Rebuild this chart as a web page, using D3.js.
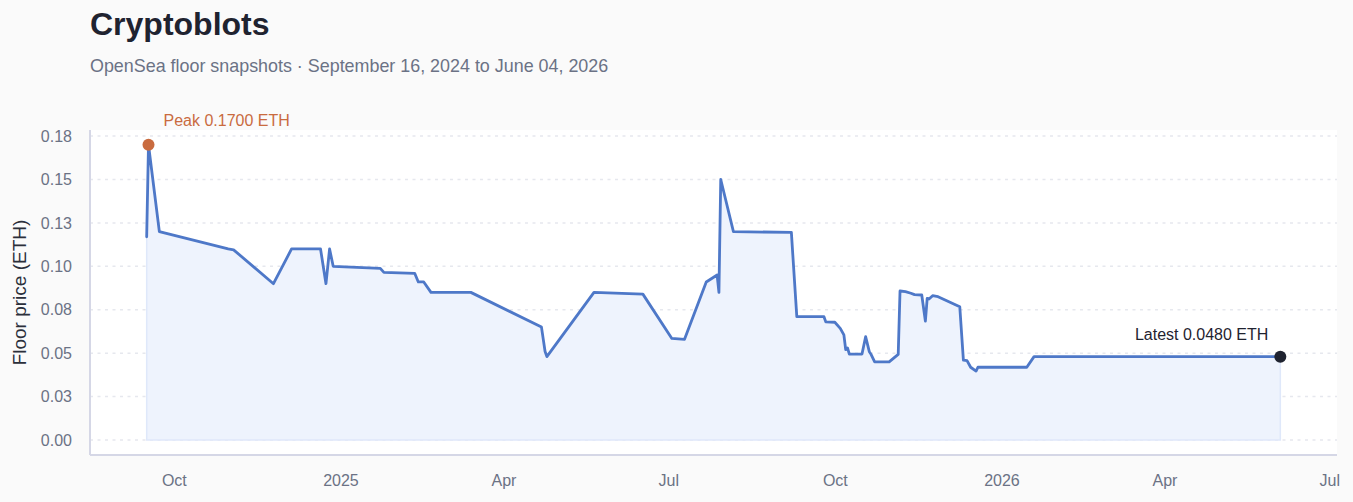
<!DOCTYPE html>
<html>
<head>
<meta charset="utf-8">
<script src="https://cdn.jsdelivr.net/npm/d3@7"></script>
<style>
  html, body { margin: 0; padding: 0; background: #fafafa; }
  svg { display: block; font-family: "Liberation Sans", Arial, Helvetica, sans-serif; }
</style>
</head>
<body>
<div id="chart"></div>
<script>
// Cryptoblots floor price — OpenSea snapshots

const snapshotDates = [
  "2024-09-16", "2024-09-17", "2024-09-23", "2024-10-31", "2024-11-03", "2024-11-25",
  "2024-12-05", "2024-12-21", "2024-12-24", "2024-12-26", "2024-12-28", "2025-01-23",
  "2025-01-25", "2025-02-11", "2025-02-13", "2025-02-16", "2025-02-20", "2025-03-14",
  "2025-04-22", "2025-04-24", "2025-04-25", "2025-05-21", "2025-06-17", "2025-07-03",
  "2025-07-10", "2025-07-22", "2025-07-28", "2025-07-29", "2025-07-30", "2025-08-06",
  "2025-09-07", "2025-09-10", "2025-09-25", "2025-09-26", "2025-10-01", "2025-10-04",
  "2025-10-06", "2025-10-07", "2025-10-08", "2025-10-09", "2025-10-16", "2025-10-18",
  "2025-10-20", "2025-10-21", "2025-10-23", "2025-10-31", "2025-11-05", "2025-11-06",
  "2025-11-09", "2025-11-12", "2025-11-14", "2025-11-18", "2025-11-20", "2025-11-21",
  "2025-11-22", "2025-11-24", "2025-11-27", "2025-12-09", "2025-12-11", "2025-12-13",
  "2025-12-15", "2025-12-18", "2025-12-19", "2026-01-15", "2026-01-19", "2026-06-04"
];

const floorEth = [
  0.117, 0.170, 0.120, 0.110, 0.1095, 0.090,
  0.110, 0.110, 0.090, 0.110, 0.100, 0.0988,
  0.0965, 0.096, 0.091, 0.091, 0.085, 0.085,
  0.065, 0.051, 0.048, 0.085, 0.084, 0.0585,
  0.058, 0.091, 0.095, 0.085, 0.150, 0.120,
  0.1195, 0.071, 0.071, 0.068, 0.0678, 0.0643,
  0.0605, 0.052, 0.053, 0.0495, 0.0495, 0.0595,
  0.051, 0.0493, 0.045, 0.045, 0.0493, 0.0858,
  0.0854, 0.0845, 0.0837, 0.0835, 0.0685, 0.0816,
  0.0812, 0.0831, 0.0825, 0.0767, 0.046, 0.0457,
  0.0419, 0.0397, 0.0419, 0.0419, 0.048, 0.048
];

// Axis ticks as shown in the reference
const yTickValues = [0, 0.025, 0.05, 0.075, 0.1, 0.125, 0.15, 0.175];
const yTickLabels = ["0.00", "0.03", "0.05", "0.08", "0.10", "0.13", "0.15", "0.18"];
const xTickDates  = ["2024-10-01", "2025-01-01", "2025-04-01", "2025-07-01",
                     "2025-10-01", "2026-01-01", "2026-04-01", "2026-07-01"];
const xTickLabels = ["Oct", "2025", "Apr", "Jul", "Oct", "2026", "Apr", "Jul"];

const parseDate = d3.utcParse("%Y-%m-%d");
const rows = snapshotDates.map((d, i) => ({ date: parseDate(d), eth: floorEth[i] }));

const width  = 1353, height = 502;
const margin = { top: 130, right: 16, bottom: 47, left: 90 };
const plotBottom = height - margin.bottom;   // axis line
const zeroY      = plotBottom - 15;          // value 0 sits a little above the axis

// ── Scales ────────────────────────────────────────────────────────────────
const [t0, t1] = d3.extent(rows, d => d.date);
const pad = (t1 - t0) * 0.05;
const x = d3.scaleUtc()
  .domain([new Date(+t0 - pad), new Date(+t1 + pad)])
  .range([margin.left, width - margin.right]);

const peak   = rows.reduce((a, b) => (b.eth > a.eth ? b : a));
const latest = rows[rows.length - 1];

const y = d3.scaleLinear()
  .domain([0, peak.eth * 1.05])
  .range([zeroY, margin.top]);

const svg = d3.select("#chart")
  .append("svg")
  .attr("width", width)
  .attr("height", height);

// TITLE + SUBTITLE
svg.append("text")
  .attr("x", margin.left).attr("y", 35)
  .style("font-size", "32px")
  .style("font-weight", "bold")
  .style("fill", "#1f2330")
  .text("Cryptoblots");

svg.append("text")
  .attr("x", margin.left).attr("y", 72)
  .style("font-size", "17.9px")
  .style("fill", "#6b7285")
  .text("OpenSea floor snapshots · September 16, 2024 to June 04, 2026");

// plot background
svg.append("rect")
  .attr("x", margin.left).attr("y", margin.top)
  .attr("width", width - margin.right - margin.left)
  .attr("height", plotBottom - margin.top)
  .style("fill", "#ffffff");

// ── Grid (dashed) ─────────────────────────────────────────────────────────
svg.append("g")
  .selectAll("line")
  .data(yTickValues)
  .join("line")
  .attr("x1", margin.left).attr("x2", width - margin.right)
  .attr("y1", d => y(d)).attr("y2", d => y(d))
  .style("stroke", "#e6e8ee")
  .style("stroke-width", 1.5)
  .style("stroke-dasharray", "3 4.5");

// ── Area + line ───────────────────────────────────────────────────────────
const area = d3.area()
  .x(d => x(d.date))
  .y0(zeroY)
  .y1(d => y(d.eth));

const line = d3.line()
  .x(d => x(d.date))
  .y(d => y(d.eth));

svg.append("path")
  .datum(rows)
  .attr("d", area)
  .style("fill", "#eef3fd")
  .style("stroke", "#dfe8fa")
  .style("stroke-width", 1.5);

svg.append("path")
  .datum(rows)
  .attr("d", line)
  .style("fill", "none")
  .style("stroke", "#4e78c8")
  .style("stroke-width", 2.8)
  .style("stroke-linejoin", "round")
  .style("stroke-linecap", "round");

// ── Axes ──────────────────────────────────────────────────────────────────
const yAxis = svg.append("g")
  .attr("transform", `translate(${margin.left},0)`)
  .call(d3.axisLeft(y)
    .tickValues(yTickValues)
    .tickSize(0)
    .tickPadding(18)
    .tickFormat((d, i) => yTickLabels[i]));

yAxis.select(".domain").remove();
yAxis.append("line")
  .attr("x1", 0).attr("x2", 0)
  .attr("y1", margin.top).attr("y2", plotBottom)
  .style("stroke", "#d5d7e6")
  .style("stroke-width", 2);

const xAxis = svg.append("g")
  .attr("transform", `translate(0,${plotBottom})`)
  .call(d3.axisBottom(x)
    .tickValues(xTickDates.map(parseDate))
    .tickSize(0)
    .tickPadding(20)
    .tickFormat((d, i) => xTickLabels[i]));

xAxis.select(".domain").remove();
xAxis.append("line")
  .attr("x1", margin.left).attr("x2", width - margin.right)
  .style("stroke", "#d5d7e6")
  .style("stroke-width", 2);

svg.selectAll(".tick text")
  .style("font-family", "\"Liberation Sans\", Arial, sans-serif")
  .style("font-size", "16px")
  .style("fill", "#6b7285");

// y title
svg.append("text")
  .attr("transform", `translate(26,${(margin.top + plotBottom) / 2}) rotate(-90)`)
  .attr("text-anchor", "middle")
  .style("font-size", "19px")
  .style("fill", "#2b2f3a")
  .text("Floor price (ETH)");

// ── Peak + latest markers ────────────────────────────────────────────────
svg.append("circle")
  .attr("cx", x(peak.date)).attr("cy", y(peak.eth)).attr("r", 6)
  .style("fill", "#c96b3f");

svg.append("text")
  .attr("x", x(peak.date) + 15).attr("y", y(peak.eth) - 19)
  .style("font-size", "16px")
  .style("fill", "#c96b3f")
  .text(`Peak ${peak.eth.toFixed(4)} ETH`);

svg.append("circle")
  .attr("cx", x(latest.date)).attr("cy", y(latest.eth)).attr("r", 6)
  .style("fill", "#1f2330");

svg.append("text")
  .attr("x", x(latest.date) - 12).attr("y", y(latest.eth) - 17)
  .attr("text-anchor", "end")
  .style("font-size", "16px")
  .style("fill", "#1f2330")
  .text(`Latest ${latest.eth.toFixed(4)} ETH`);
</script>
</body>
</html>
